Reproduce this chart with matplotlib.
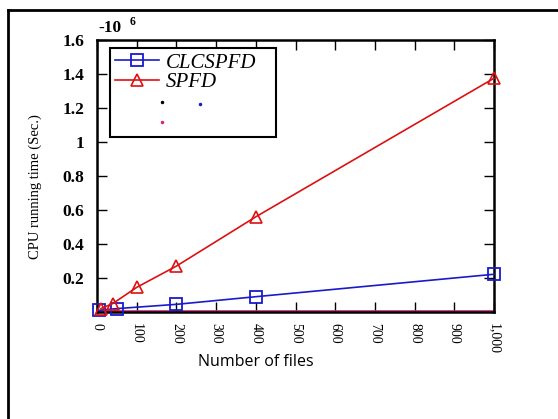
import matplotlib
matplotlib.use("Agg")
import matplotlib.pyplot as plt
from matplotlib.lines import Line2D

# Data
files_clc = [5, 50, 200, 400, 1000]
time_clc = [0.01, 0.02, 0.045, 0.09, 0.222]
files_spfd = [10, 40, 100, 200, 400, 1000]
time_spfd = [0.02, 0.05, 0.145, 0.27, 0.56, 1.375]
files_base = [0, 1000]
time_base = [0.004, 0.004]
xticks = [0, 100, 200, 300, 400, 500, 600, 700, 800, 900, 1000]
xticklabels = ["0", "100", "200", "300", "400", "500", "600", "700", "800", "900", "1,000"]
yticks = [0.2, 0.4, 0.6, 0.8, 1.0, 1.2, 1.4, 1.6]
yticklabels = ["0.2", "0.4", "0.6", "0.8", "1", "1.2", "1.4", "1.6"]

serif = ["Liberation Serif", "DejaVu Serif"]

fig = plt.figure(figsize=(5.58, 4.19), dpi=100)
ax = fig.add_axes([97/558, 1 - 312/419, (494-97)/558, (312-40)/419])

ax.plot(files_base, time_base, color="#cc2277", lw=1.2, zorder=2)
ax.plot(files_clc, time_clc, color="#1a1acc", lw=1.2, marker="s", ms=8,
        mfc="none", mec="#1a1acc", mew=1.3, clip_on=False, zorder=3)
ax.plot(files_spfd, time_spfd, color="#dd1111", lw=1.2, marker="^", ms=8,
        mfc="none", mec="#dd1111", mew=1.2, clip_on=False, zorder=3)

ax.set_xlim(0, 1000)
ax.set_ylim(0, 1.6)
ax.set_xticks(xticks)
ax.set_xticklabels(xticklabels, rotation=-90, fontfamily=serif, fontsize=10)
ax.set_yticks(yticks)
ax.set_yticklabels(yticklabels, fontfamily=serif, fontsize=12.5, fontweight="bold")
ax.tick_params(direction="in", length=7, width=1, top=True, right=True)
ax.tick_params(axis="x", pad=8)
ax.tick_params(axis="y", pad=9)
for s in ax.spines.values():
    s.set_linewidth(1.8)
    s.set_color("black")

fig.text(256/558, 1 - 362/419, "Number of files", ha="center", va="center",
         fontfamily=["Open Sans", "DejaVu Sans"], fontsize=11.5)
fig.text(35/558, 1 - 187/419, "CPU running time (Sec.)", rotation=90, ha="center", va="center",
         fontfamily=serif, fontsize=10.5)

fig.text(98/558, 1 - 28/419, "-10", fontfamily=serif, fontsize=12.5, fontweight="bold", ha="left", va="center")
fig.text(130/558, 1 - 22/419, "6", fontfamily=serif, fontsize=8.5, fontweight="bold", ha="left", va="center")

handles = [
    Line2D([], [], color="#1a1acc", lw=1.2, marker="s", ms=8, mfc="none", mec="#1a1acc", mew=1.3),
    Line2D([], [], color="#dd1111", lw=1.2, marker="^", ms=8, mfc="none", mec="#dd1111", mew=1.2),
    Line2D([], [], color="none"),
    Line2D([], [], color="none"),
]
leg = ax.legend(handles, ["CLCSPFD", "SPFD", "\u00a0" * 20, "\u00a0"], loc="upper left",
                bbox_to_anchor=((110-97)/397, (312-48)/272),
                prop={"family": serif, "style": "italic", "size": 15},
                frameon=True, fancybox=False, framealpha=1, edgecolor="black",
                handlelength=2.1, borderaxespad=0, labelspacing=0.0, borderpad=0.25,
                handletextpad=0.35)
leg.get_frame().set_linewidth(1.5)

# small dots in the legend area
ax.plot([(162-97)/397], [(312-102)/272], marker="o", ms=1.5, color="black", transform=ax.transAxes, zorder=6)
ax.plot([(200-97)/397], [(312-104)/272], marker="o", ms=1.5, color="#1a1acc", transform=ax.transAxes, zorder=6)
ax.plot([(162-97)/397], [(312-122)/272], marker="o", ms=1.5, color="#dd2277", transform=ax.transAxes, zorder=6)

# outer frame lines (top and left)
fig.add_artist(Line2D([8/558, 1], [1 - 10/419, 1 - 10/419], color="black", lw=2, transform=fig.transFigure))
fig.add_artist(Line2D([8/558, 8/558], [0, 1 - 10/419], color="black", lw=2, transform=fig.transFigure))

fig.savefig("out.png", dpi=100)
